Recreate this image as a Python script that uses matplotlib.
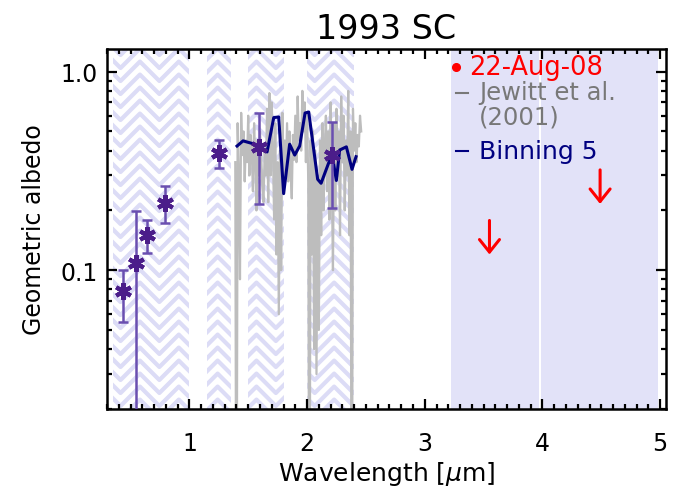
import numpy as np
import matplotlib
matplotlib.use('Agg')
import matplotlib.pyplot as plt
from matplotlib import transforms
from matplotlib.patches import Rectangle
from matplotlib.ticker import FixedLocator, FixedFormatter, LogLocator, MultipleLocator, NullFormatter

plt.rcParams['font.family'] = ['DejaVu Sans']
plt.rcParams['mathtext.fontset'] = 'dejavusans'

# photometry (22-Aug-08)
phot_wl = [0.437, 0.55, 0.64, 0.79, 1.255, 1.595, 2.21]
phot_alb = [0.0788, 0.109, 0.150, 0.219, 0.390, 0.415, 0.381]
phot_lo = [0.0549, 0.005, 0.122, 0.173, 0.328, 0.216, 0.206]
phot_hi = [0.100, 0.199, 0.178, 0.266, 0.455, 0.617, 0.556]

# Spitzer upper limits
lim_wl = [3.55, 4.49]
lim_alb = [0.178, 0.32]

# Jewitt et al. (2001) spectrum, sampled every 0.01 micron from 1.39
jew_start, jew_step = 1.39, 0.01
jew_alb = [0.35, 0.001, 0.55, 0.30, 0.09, 0.62, 0.38, 0.50, 0.28, 0.45,
           0.35, 0.60, 0.30, 0.48, 0.40, 0.25, 0.55, 0.35, 0.20, 0.45,
           0.30, 0.50, 0.38, 0.26, 0.22, 0.40, 0.30, 0.65, 0.22, 0.78,
           0.30, 0.70, 0.40, 0.18, 0.55, 0.12, 0.35, 0.06, 0.40, 0.10,
           0.62, 0.25, 0.45, 0.30, 0.55, 0.28, 0.50, 0.32, 0.23, 0.48,
           0.36, 0.60, 0.35, 0.75, 0.45, 0.55, 0.40, 0.80, 0.50, 0.70,
           0.35, 0.62, 0.28, 0.001, 0.45, 0.12, 0.50, 0.04, 0.40, 0.03,
           0.30, 0.05, 0.45, 0.15, 0.55, 0.20, 0.40, 0.60, 0.25, 0.50,
           0.18, 0.70, 0.30, 0.10, 0.55, 0.20, 0.65, 0.30, 0.50, 0.15,
           0.75, 0.35, 0.60, 0.20, 0.45, 0.30, 0.80, 0.15, 0.50, 0.001,
           0.65, 0.40, 0.55, 0.35, 0.48, 0.42, 0.60, 0.50]
jew_wl = jew_start + jew_step * np.arange(len(jew_alb))

# binned spectrum
bin_wl = [1.405, 1.456, 1.532, 1.598, 1.66, 1.717, 1.759, 1.801, 1.852, 1.895,
          1.937, 1.983, 2.014, 2.09, 2.119, 2.212, 2.249, 2.277, 2.334, 2.382, 2.416]
bin_alb = [0.422, 0.448, 0.435, 0.418, 0.394, 0.587, 0.591, 0.243, 0.431, 0.380,
           0.422, 0.619, 0.626, 0.287, 0.274, 0.385, 0.283, 0.403, 0.418, 0.322, 0.373]

# filter bands
hatch_bands = [(0.35, 1.0), (1.15, 1.35), (1.5, 1.8), (2.0, 2.4)]
irac_bands = [(3.22, 3.97), (3.99, 4.98)]

fig = plt.figure(figsize=(6.81, 4.89), dpi=100)
ax = fig.add_axes([107 / 681, 1 - 410 / 489, 559 / 681, 360 / 489])
ax.set_yscale('log')
ax.set_xlim(0.3, 5.05)
ax.set_ylim(0.02, 1.3)

trans = transforms.blended_transform_factory(ax.transData, ax.transAxes)

for x0, x1 in irac_bands:
    ax.add_patch(Rectangle((x0, 0), x1 - x0, 1, transform=trans,
                           facecolor='#e2e2f8', edgecolor='none', zorder=0.3))

# herringbone hatching for the filter bands
half = 0.165
px_per_um = 559 / 4.75
rise = half * px_per_um / 360
spacing = 13 / 360
apex0 = 0.58
for x0, x1 in hatch_bands:
    clip = Rectangle((x0, 0), x1 - x0, 1, transform=trans, facecolor='none', edgecolor='none')
    ax.add_patch(clip)
    n0 = int(np.floor((x0 - apex0) / half)) - 1
    n1 = int(np.ceil((x1 - apex0) / half)) + 1
    xs = [apex0 + n * half for n in range(n0, n1 + 1)]
    zig = [rise if n % 2 == 0 else 0.0 for n in range(n0, n1 + 1)]
    for k in range(-8, 90):
        ys = [z + k * spacing - 0.1 for z in zig]
        line, = ax.plot(xs, ys, transform=trans, color='#dcdcf6', lw=3.0,
                        solid_capstyle='butt', zorder=0.5)
        line.set_clip_path(clip)

ax.plot(jew_wl, jew_alb, color='#bdbdbd', lw=1.6, zorder=1)
ax.plot(bin_wl, bin_alb, color='#000080', lw=2.2, zorder=2)

yerr = [np.array(phot_alb) - np.array(phot_lo), np.array(phot_hi) - np.array(phot_alb)]
ax.errorbar(phot_wl, phot_alb, yerr=yerr, fmt='none', ecolor='#6a4fb0',
            elinewidth=1.8, capsize=3.5, capthick=1.8, zorder=3)
ax.plot(phot_wl, phot_alb, linestyle='none', marker=(6, 2, 0), markersize=12,
        mew=3.0, color='#4b1d8a', zorder=4)

for x, y in zip(lim_wl, lim_alb):
    ax.annotate('', xy=(x, y), xycoords='data', xytext=(0, -24.5), textcoords='offset points',
                arrowprops=dict(arrowstyle='<-, head_width=0.4, head_length=0.5',
                                color='red', lw=2.2, shrinkA=0, shrinkB=0, mutation_scale=18),
                zorder=5)

# legend drawn by hand
ax.plot([0.624], [0.95], transform=ax.transAxes, marker='o', ms=5.5, color='red', clip_on=False)
ax.text(0.647, 0.93, '22-Aug-08', transform=ax.transAxes, color='red', fontsize=18.5, va='baseline')
ax.plot([0.624, 0.645], [0.879, 0.879], transform=ax.transAxes, color='#787878', lw=1.5)
ax.text(0.6655, 0.862, 'Jewitt et al.', transform=ax.transAxes, color='#787878', fontsize=17.5, va='baseline')
ax.text(0.6655, 0.792, '(2001)', transform=ax.transAxes, color='#787878', fontsize=17.5, va='baseline')
ax.plot([0.624, 0.645], [0.717, 0.717], transform=ax.transAxes, color='#000080', lw=1.5)
ax.text(0.6655, 0.696, 'Binning 5', transform=ax.transAxes, color='#000080', fontsize=18, va='baseline')

ax.xaxis.set_major_locator(MultipleLocator(1))
ax.xaxis.set_minor_locator(MultipleLocator(0.1))
ax.yaxis.set_major_locator(FixedLocator([0.1, 1.0]))
ax.yaxis.set_major_formatter(FixedFormatter(['0.1', '1.0']))
ax.yaxis.set_minor_locator(LogLocator(base=10, subs=np.arange(2, 10)))
ax.yaxis.set_minor_formatter(NullFormatter())

ax.tick_params(which='both', direction='in', top=True, right=True, width=1.6, labelsize=17)
ax.tick_params(which='major', length=7)
ax.tick_params(which='minor', length=3.5)
ax.tick_params(axis='x', which='major', pad=16)
ax.tick_params(axis='y', which='major', pad=7)
for sp in ax.spines.values():
    sp.set_linewidth(1.8)

ax.set_xlabel(r'Wavelength [$\mu$m]', fontsize=18, labelpad=3)
ax.set_ylabel('Geometric albedo', fontsize=17, labelpad=10)
ax.set_title('1993 SC', fontsize=24, pad=8)

fig.savefig('out.png', dpi=100)
